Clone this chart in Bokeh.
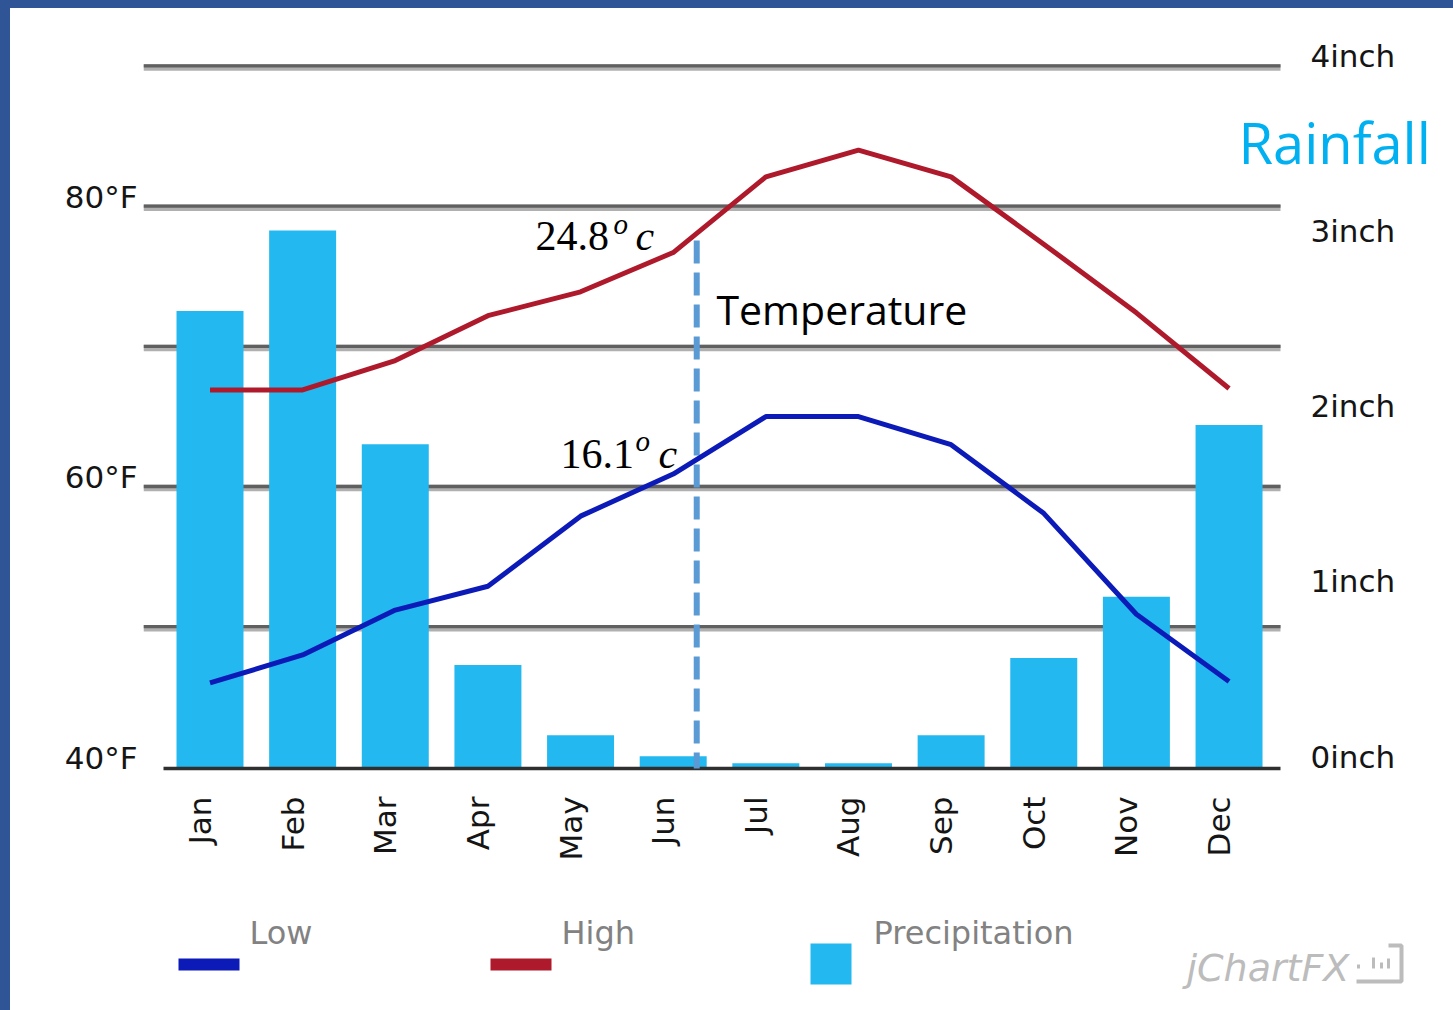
import math
from bokeh.plotting import figure
from bokeh.models import Range1d, LinearAxis, FixedTicker, PrintfTickFormatter, Label, ColumnDataSource
from bokeh.embed import file_html
from bokeh.resources import INLINE
from bokeh.core.properties import value

# ---------------- data ----------------
months = ["Jan", "Feb", "Mar", "Apr", "May", "Jun",
          "Jul", "Aug", "Sep", "Oct", "Nov", "Dec"]
precip_in = [2.61, 3.07, 1.85, 0.59, 0.19, 0.07, 0.03, 0.03, 0.19, 0.63, 0.98, 1.96]
low_f = [46.1, 48.1, 51.3, 53.0, 58.0, 61.0, 65.1, 65.1, 63.1, 58.2, 51.0, 46.2]
high_f = [67.0, 67.0, 69.1, 72.3, 74.0, 76.8, 82.2, 84.1, 82.2, 77.4, 72.5, 67.1]
temp_ticks = [40, 60, 80]
rain_ticks = [0, 1, 2, 3, 4]
grid_f = [50, 60, 70, 80, 90]
series_names = ["Low", "High", "Precipitation"]
annot_high = "24.8"
annot_low = "16.1"

# ---------------- styles ----------------
C_BAR = "#23B8EF"
C_HIGH = "#AE1A2B"
C_LOW = "#0C1BB7"
C_DASH = "#5B9BD5"
C_RAIN = "#00B0F0"
C_LEG = "#828282"
C_MARK = "#bcbcbc"
AX_FONT = value("DejaVu Sans")

# page geometry: the figure starts at page (OX, OY)
OX, OY = 10, 8
W = 1453 - OX
H = 1010 - OY
FRAME_L = 143                     # page x of the frame's left edge

PX_X = 92.64                      # px per month
X_JAN = 209.5                     # page x of the first month
X0 = -(X_JAN - FRAME_L) / PX_X
X1 = (1453 - X_JAN) / PX_X
PX_F = 14.02                      # px per degree F
Y_40 = 768                        # page y of 40°F / 0 inch
Y0 = 40 - (1010 - Y_40) / PX_F
Y1 = 40 + (Y_40 - OY) / PX_F
F_PER_IN = 12.5

p = figure(width=W, height=H, x_range=Range1d(X0, X1), y_range=Range1d(Y0, Y1),
           output_backend="svg", toolbar_location=None,
           x_axis_type=None, y_axis_type=None,
           min_border_left=FRAME_L - OX, min_border_right=0,
           min_border_top=0, min_border_bottom=0)
p.outline_line_color = None
p.background_fill_color = "white"
p.border_fill_color = "white"

d_f = 11 / PX_F
d_in = 12 / PX_F
p.extra_x_ranges = {"px": Range1d(FRAME_L, 1453)}
p.extra_y_ranges = {
    "px": Range1d(1010, OY),
    "rain": Range1d((Y0 - 40) / F_PER_IN, (Y1 - 40) / F_PER_IN),
    "lblF": Range1d(Y0 - d_f, Y1 - d_f),
    "lblIn": Range1d((Y0 - d_in - 40) / F_PER_IN, (Y1 - d_in - 40) / F_PER_IN),
    "gridDark": Range1d(Y0 - 1.6 / PX_F, Y1 - 1.6 / PX_F),
}

# ---- grid lines (two-tone), from page x 143 to 1280 ----
n_g = len(grid_f)
p.segment(x0=[FRAME_L] * n_g, x1=[1280] * n_g, y0=grid_f, y1=grid_f, x_range_name="px",
          line_color="#b0b0b0", line_width=6.5)
p.segment(x0=[FRAME_L] * n_g, x1=[1280] * n_g, y0=grid_f, y1=grid_f, x_range_name="px",
          y_range_name="gridDark", line_color="#606060", line_width=3.3)

# ---- left axis (°F) ----
ax_l = LinearAxis(y_range_name="lblF", ticker=FixedTicker(ticks=temp_ticks),
                  formatter=PrintfTickFormatter(format="%d°F"))
ax_l.axis_line_color = None
ax_l.major_tick_line_color = None
ax_l.minor_tick_line_color = None
ax_l.major_tick_in = 0
ax_l.major_tick_out = 0
ax_l.major_label_standoff = 6
ax_l.major_label_text_font = "DejaVu Sans"
ax_l.major_label_text_font_size = "31px"
ax_l.major_label_text_color = "#151515"
p.add_layout(ax_l, "left")

# ---- right (inch) tick labels ----
p.text(x=[1310] * len(rain_ticks), y=rain_ticks, text=[f"{t}inch" for t in rain_ticks],
       x_range_name="px", y_range_name="lblIn", text_font=AX_FONT, text_font_size="31px",
       text_color="#151515", text_align="left", text_baseline="middle")

# ---- month tick labels ----
idx = list(range(len(months)))
p.text(x=idx, y=[796] * len(months), text=months, y_range_name="px",
       angle=math.pi / 2, text_align="right", text_baseline="middle", x_offset=-10,
       text_font=AX_FONT, text_font_size="31px", text_color="#151515")

src = ColumnDataSource(dict(x=idx, m=months, rain=precip_in, low=low_f, high=high_f))

p.vbar(x="x", top="rain", bottom=0, width=0.723, source=src, y_range_name="rain",
       fill_color=C_BAR, line_color=None)

# baseline (40°F / 0 inch)
p.segment(x0=[163], x1=[1280], y0=[temp_ticks[0]], y1=[temp_ticks[0]], x_range_name="px",
          line_color="#2f2f2f", line_width=3.5)

# dashed marker
MARK_X = 5.254
p.segment(x0=[MARK_X], x1=[MARK_X], y0=[77.66], y1=[temp_ticks[0]],
          line_color=C_DASH, line_width=6, line_dash="23 9")

p.line("x", "high", source=src, line_color=C_HIGH, line_width=5, line_join="round")
p.line("x", "low", source=src, line_color=C_LOW, line_width=5, line_join="round")


# ---- annotations (positions in page pixels) ----
def lab(x, y, text, font, size, color="black", style="normal"):
    p.add_layout(Label(x=x, y=y, x_range_name="px", y_range_name="px", text=text,
                       text_font=font, text_font_size=size, text_color=color,
                       text_font_style=style, text_baseline="middle", text_align="left"))


def math_label(num, x_num, base, x_o, base_o, x_c):
    lab(x_num, base - 14, num, "Liberation Serif", "42px")
    lab(x_o, base_o - 10, "o", "Liberation Serif", "29px", style="italic")
    lab(x_c, base - 14, "c", "Liberation Serif", "42px", style="italic")


math_label(annot_high, 535, 249, 613, 233, 635)
math_label(annot_low, 560, 467, 635, 450, 658)

lab(716, 308.5, "Temperature", "Open Sans", "41px")
lab(1238, 141, "Rainfall", "Open Sans", "56px", color=C_RAIN)

# ---- legend ----
p.segment(x0=[178, 490], x1=[239, 551], y0=[964, 964], y1=[964, 964],
          x_range_name="px", y_range_name="px", line_color=[C_LOW, C_HIGH], line_width=12)
p.quad(left=[810], right=[851], top=[943], bottom=[984], x_range_name="px", y_range_name="px",
       fill_color=C_BAR, line_color=None)
p.text(x=[249, 561, 873], y=[932, 932, 932], text=series_names,
       x_range_name="px", y_range_name="px",
       text_font=AX_FONT, text_font_size="32px", text_color=C_LEG,
       text_baseline="middle", text_align="left")

# ---- watermark ----
p.text(x=[1186], y=[967], text=["jChartFX"], x_range_name="px", y_range_name="px",
       text_font=AX_FONT, text_font_size="38px", text_font_style="italic",
       text_color=C_MARK, text_baseline="middle", text_align="left")
p.line(x=[1388, 1401, 1401, 1356], y=[945, 945, 981, 981], x_range_name="px", y_range_name="px",
       line_color=C_MARK, line_width=4)
p.segment(x0=[1358, 1373, 1381, 1388], x1=[1358, 1373, 1381, 1388],
          y0=[964, 957, 962, 958], y1=[968, 968, 968, 968],
          x_range_name="px", y_range_name="px", line_color=C_MARK, line_width=3)

tmpl = ("{% block postamble %}<style>html,body{margin:0 !important;}"
        "body{padding:8px 0 0 10px !important;box-sizing:border-box !important;"
        "overflow:hidden !important;background:"
        "linear-gradient(#2F5597,#2F5597) 0 0/100% 8px no-repeat,"
        "linear-gradient(#2F5597,#2F5597) 0 0/10px 100% no-repeat,#ffffff !important;}"
        "</style>{% endblock %}")

open("out.html", "w").write(file_html(p, INLINE, template=tmpl))
